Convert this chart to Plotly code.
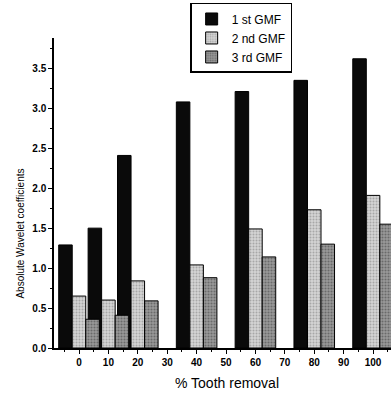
import plotly.graph_objects as go

removal = [0, 10, 20, 40, 60, 80, 100]
gmf1 = [1.29, 1.50, 2.41, 3.08, 3.21, 3.35, 3.62]
gmf2 = [0.65, 0.60, 0.84, 1.04, 1.49, 1.73, 1.91]
gmf3 = [0.36, 0.41, 0.59, 0.88, 1.14, 1.30, 1.55]
series_names = ["1 st GMF", "2 nd GMF", "3 rd GMF"]
x_ticks = [0, 10, 20, 30, 40, 50, 60, 70, 80, 90, 100]
y_ticks = [0.0, 0.5, 1.0, 1.5, 2.0, 2.5, 3.0, 3.5]

W = 4.6
fig = go.Figure()
styles = [
    dict(color="#0a0a0a", pattern=None),
    dict(color="#d4d4d4", pattern=dict(shape=".", fgcolor="#7a7a7a", bgcolor="#d4d4d4", size=3, solidity=0.35)),
    dict(color="#8c8c8c", pattern=dict(shape=".", fgcolor="#3a3a3a", bgcolor="#9a9a9a", size=3, solidity=0.4)),
]
for i, (vals, name) in enumerate(zip([gmf1, gmf2, gmf3], series_names)):
    marker = dict(color=styles[i]["color"], line=dict(color="black", width=1))
    if styles[i]["pattern"]:
        marker["pattern"] = styles[i]["pattern"]
    fig.add_trace(go.Bar(x=removal, y=vals, name=name, width=W,
                         offset=(i - 1.5) * W, marker=marker))

font = "Liberation Sans, Arial, sans-serif"
fig.update_layout(
    width=391, height=394,
    margin=dict(l=54, r=0, t=38, b=46),
    plot_bgcolor="white", paper_bgcolor="white",
    barmode="overlay",
    showlegend=True,
    legend=dict(x=0.404, y=1.113, xanchor="left", yanchor="top",
                bordercolor="black", borderwidth=1.5, bgcolor="white",
                font=dict(family=font, size=12, color="black"),
                tracegroupgap=0, itemwidth=30),
    font=dict(family=font, color="black"),
    annotations=[
        dict(text="Absolute Wavelet coefficients", xref="paper", yref="paper",
             x=-0.100, y=0.37, textangle=-90, showarrow=False,
             xanchor="center", yanchor="middle",
             font=dict(family=font, size=10, color="black")),
        dict(text="% Tooth removal", xref="paper", yref="paper",
             x=0.513, y=-0.113, showarrow=False,
             xanchor="center", yanchor="middle",
             font=dict(family=font, size=14, color="black")),
    ],
)
fig.update_xaxes(
    range=[-8.5, 106.1], tickvals=x_ticks, ticktext=[str(t) for t in x_ticks],
    showgrid=False, zeroline=False, showline=True, linecolor="black", linewidth=1.5,
    ticks="outside", ticklen=4, tickwidth=1, tickcolor="black",
    minor=dict(dtick=5, tick0=0, ticks="outside", ticklen=2, tickcolor="black", showgrid=False),
    tickfont=dict(family=font, size=10, color="black", weight="bold"),
)
fig.update_yaxes(
    range=[0, 3.88], tickvals=y_ticks, ticktext=[f"{t:.1f}" for t in y_ticks],
    showgrid=False, zeroline=False, showline=True, linecolor="black", linewidth=1.5,
    ticks="outside", ticklen=4, tickwidth=1, tickcolor="black",
    minor=dict(dtick=0.25, tick0=0, ticks="outside", ticklen=2, tickcolor="black", showgrid=False),
    tickfont=dict(family=font, size=10, color="black", weight="bold"),
)
fig.write_html("out.html", config={"displayModeBar": False},
               post_script="document.body.style.margin='0';document.body.style.overflow='hidden';")
